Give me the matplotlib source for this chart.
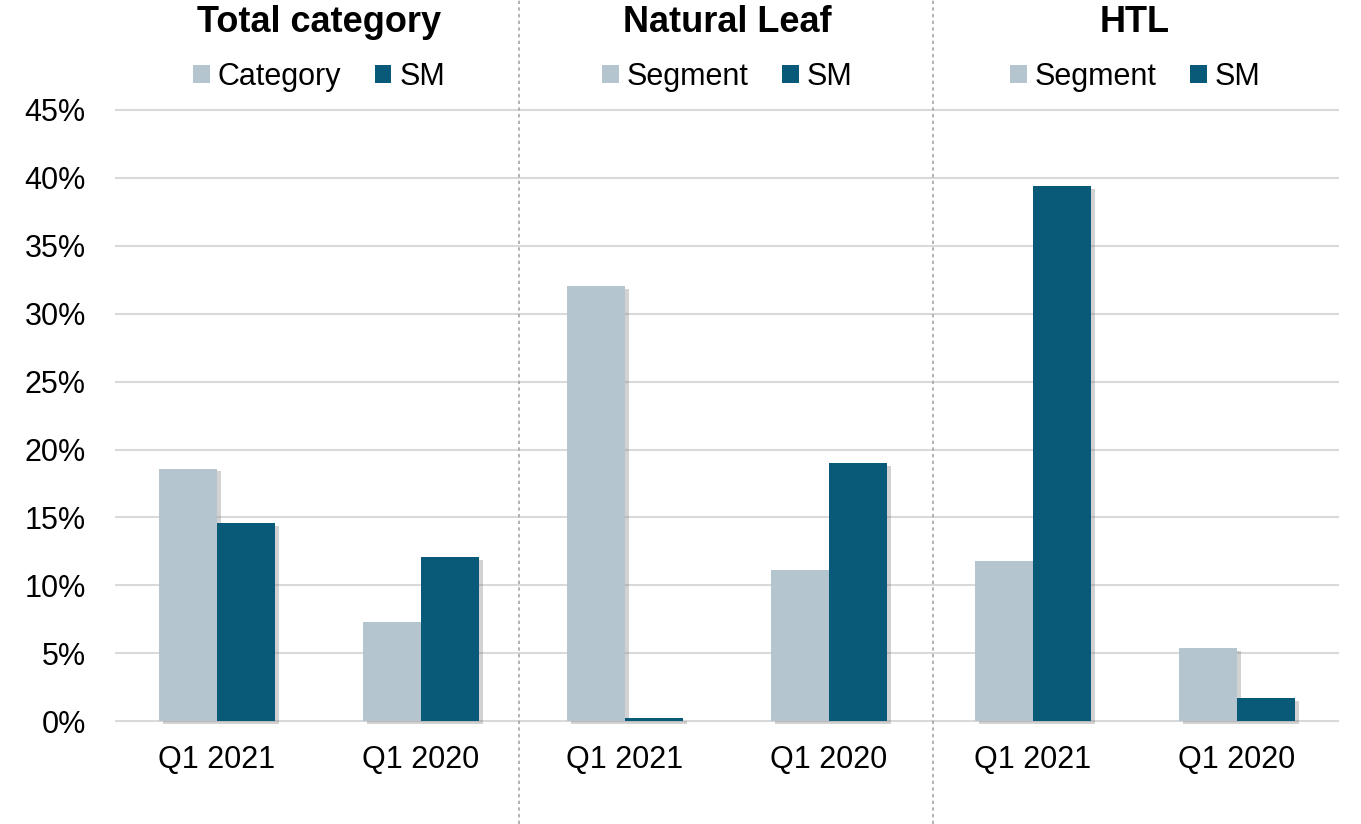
import numpy as np
import matplotlib
matplotlib.use("Agg")
import matplotlib.pyplot as plt
import matplotlib.patheffects as pe
from matplotlib.patches import Patch
from matplotlib.lines import Line2D
from matplotlib.ticker import PercentFormatter

plt.rcParams['font.family'] = ['Liberation Sans', 'DejaVu Sans']

# data
panels = ['Total category', 'Natural Leaf', 'HTL']
light_names = ['Category', 'Segment', 'Segment']
periods = ['Q1 2021', 'Q1 2020']
light_vals = [[18.6, 7.3], [32.0, 11.1], [11.8, 5.4]]
sm_vals = [[14.6, 12.1], [0.25, 19.0], [39.4, 1.7]]
y_ticks = [0, 5, 10, 15, 20, 25, 30, 35, 40, 45]

LIGHT = '#B4C5D0'
DARK = '#085A78'
GRID = '#D9D9D9'

W, H = 1361, 824
fig = plt.figure(figsize=(W / 100, H / 100), dpi=100)

left_px, panel_px = 115, 408
bot_px, top_px = 725.4, 103
bw = 0.285
shadow = [pe.SimplePatchShadow(offset=(3, -2), shadow_rgbFace='#808080', alpha=0.35),
          pe.Normal()]

for i, name in enumerate(panels):
    ax = fig.add_axes([(left_px + i * panel_px) / W, (H - bot_px) / H,
                       panel_px / W, (bot_px - top_px) / H])
    x = np.arange(len(periods))
    b1 = ax.bar(x - bw / 2, light_vals[i], bw, color=LIGHT, zorder=3)
    b2 = ax.bar(x + bw / 2, sm_vals[i], bw, color=DARK, zorder=3)
    for r in list(b1) + list(b2):
        r.set_path_effects(shadow)
    ax.set_xlim(-0.5, 1.5)
    ax.set_ylim(-0.3, 45.5)
    ax.set_yticks(y_ticks)
    ax.yaxis.set_major_formatter(PercentFormatter(decimals=0))
    ax.set_xticks(x)
    ax.set_xticklabels(periods)
    ax.grid(axis='y', color=GRID, linewidth=1.5, zorder=0)
    ax.set_axisbelow(True)
    for s in ax.spines.values():
        s.set_visible(False)
    ax.tick_params(axis='both', length=0, labelsize=22)
    ax.tick_params(axis='x', pad=14)
    ax.tick_params(axis='y', pad=21)
    if i > 0:
        ax.tick_params(axis='y', labelleft=False)

    # panel title + legend above each panel
    span = bot_px - top_px
    ax.text(0.5, (bot_px - 22) / span, name, transform=ax.transAxes,
            ha='center', va='center', fontsize=26, fontweight='bold')
    handles = [Patch(facecolor=LIGHT, edgecolor='none', label=light_names[i]),
               Patch(facecolor=DARK, edgecolor='none', label='SM')]
    ax.legend(handles=handles, loc='center', ncol=2, frameon=False,
              bbox_to_anchor=(0.5, (bot_px - 77) / span),
              fontsize=22, handlelength=0.55, handleheight=0.55,
              handletextpad=0.25, columnspacing=1.1)

# dotted separators between the panels, full figure height
for xp in (519, 933):
    fig.add_artist(Line2D([xp / W, xp / W], [0, 1], transform=fig.transFigure,
                          color='#A6A6A6', linewidth=1.2, linestyle=(0, (2, 2))))

fig.savefig('out.png', dpi=100)
